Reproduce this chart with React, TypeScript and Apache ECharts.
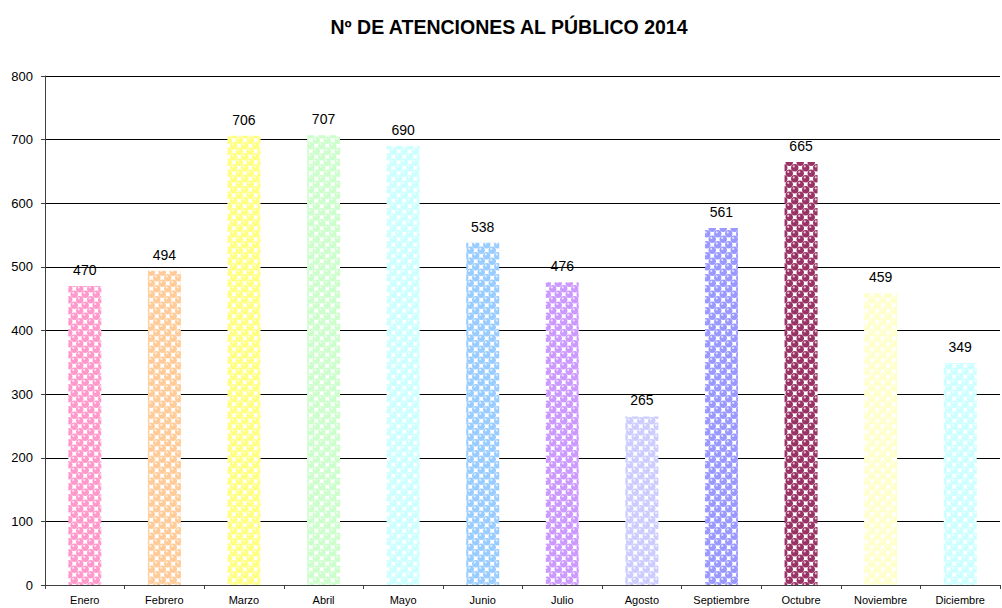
import React, { useEffect, useRef } from "react";
import * as echarts from "echarts";

const categories = ["Enero", "Febrero", "Marzo", "Abril", "Mayo", "Junio", "Julio", "Agosto", "Septiembre", "Octubre", "Noviembre", "Diciembre"];
const values = [470, 494, 706, 707, 690, 538, 476, 265, 561, 665, 459, 349];
const barColors = ["#ff99cc", "#ffcc99", "#ffff80", "#ccffcc", "#ccffff", "#99ccff", "#cc99ff", "#ccccff", "#9999ff", "#993366", "#ffffcc", "#ccffff"];
const yTicks = [0, 100, 200, 300, 400, 500, 600, 700, 800];
const title = "Nº DE ATENCIONES AL PÚBLICO 2014";

function makeTile(color: string): HTMLCanvasElement {
  const s = 11;
  const c = document.createElement("canvas");
  c.width = s;
  c.height = s;
  const ctx = c.getContext("2d")!;
  ctx.fillStyle = "#ffffff";
  ctx.fillRect(0, 0, s, s);
  const centers = [
    [2.75, 2.75], [8.25, 8.25],
    [8.25 - 11, 8.25], [8.25, 8.25 - 11], [8.25 - 11, 8.25 - 11],
    [2.75 + 11, 2.75], [2.75, 2.75 + 11], [2.75 + 11, 2.75 + 11],
  ];
  for (const [x, y] of centers) {
    ctx.fillStyle = color;
    ctx.beginPath();
    ctx.arc(x, y, 3.7, 0, Math.PI * 2);
    ctx.fill();
  }
  for (const [x, y] of centers) {
    ctx.fillStyle = "rgba(255,255,255,0.7)";
    ctx.beginPath();
    ctx.arc(x - 1, y - 1.3, 1.1, 0, Math.PI * 2);
    ctx.fill();
  }
  return c;
}

export default function App() {
  const ref = useRef<HTMLDivElement>(null);
  useEffect(() => {
    if (!ref.current) return;
    const chart = echarts.init(ref.current, undefined, { renderer: "svg" });
    const data = values.map((v, i) => ({
      value: v,
      itemStyle: {
        color: {
          image: makeTile(barColors[i]),
          repeat: "repeat",
          imageWidth: 11,
          imageHeight: 11,
        } as any,
      },
    }));
    chart.setOption({
      animation: false,
      backgroundColor: "#ffffff",
      title: {
        text: title,
        left: 504,
        textAlign: "center",
        top: 12,
        textStyle: { fontFamily: "Liberation Sans, Arial", fontWeight: "bold", fontSize: 19.5, color: "#000" },
      },
      grid: { left: 45, right: 2, top: 76, bottom: 23, containLabel: false },
      xAxis: {
        type: "category",
        data: categories,
        boundaryGap: true,
        axisLine: { lineStyle: { color: "#404040", width: 1 } },
        axisTick: { show: true, length: 4, lineStyle: { color: "#404040" } },
        axisLabel: { fontFamily: "Liberation Sans, Arial", fontSize: 11, color: "#000", margin: 9, interval: 0 },
      },
      yAxis: {
        type: "value",
        min: yTicks[0],
        max: yTicks[yTicks.length - 1],
        interval: 100,
        axisLine: { show: true, lineStyle: { color: "#404040", width: 1 } },
        axisTick: { show: true, length: 4, lineStyle: { color: "#404040" } },
        axisLabel: { fontFamily: "Liberation Sans, Arial", fontSize: 13, color: "#000", margin: 12 },
        splitLine: { show: true, lineStyle: { color: "#000", width: 1 } },
      },
      series: [
        {
          type: "bar",
          data,
          barWidth: 33,
          label: {
            show: true,
            position: "top",
            distance: 9,
            fontFamily: "Liberation Sans, Arial",
            fontSize: 14,
            color: "#000",
          },
        },
      ],
    });
    return () => chart.dispose();
  }, []);
  return <div ref={ref} style={{ position: "absolute", left: 0, top: 0, width: 1002, height: 608 }} />;
}
